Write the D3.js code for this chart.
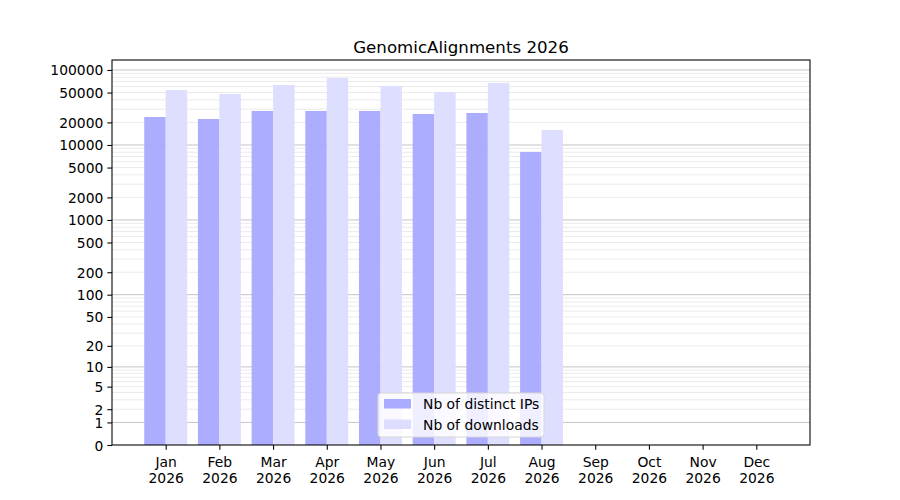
<!DOCTYPE html>
<html>
<head>
<title>GenomicAlignments 2026 | D3</title>
<script src="https://d3js.org/d3.v7.min.js" charset="utf-8"></script>
<style>
body {
  margin: 0;
  font-family: "DejaVu Sans", sans-serif;
}
svg text {
  font-family: "DejaVu Sans", sans-serif;
}
.tick text {
  font-size: 13.89px;
  fill: #000;
}
</style>
</head>
<body>
<div id="chart"></div>
<script>
var months = ["Jan", "Feb", "Mar", "Apr", "May", "Jun", "Jul", "Aug", "Sep", "Oct", "Nov", "Dec"];
var year = "2026";
// values (Sep-Dec have no data yet)
var distinctIPs = [23600, 22200, 28400, 28400, 28400, 25900, 26700, 8070];
var downloads = [54100, 47900, 63100, 78200, 61200, 50900, 67100, 15850];
var yTicks = [0, 1, 2, 5, 10, 20, 50, 100, 200, 500, 1000, 2000, 5000, 10000, 20000, 50000, 100000];

var width = 900;
var height = 500;
var margin = {top: 60, right: 90, bottom: 55, left: 112};

var ipColor = "#aaaaff";
var dlColor = "#ddddff";

var svg = d3.select("#chart")
  .append("svg")
  .attr("width", width)
  .attr("height", height);

// x: one unit per month, padded by one on each side
var x = d3.scaleLinear()
  .domain([-1, 12])
  .range([margin.left, width - margin.right]);

// log(1 + v) style scale, so 0 is on the axis
var y = d3.scaleSymlog()
  .constant(1)
  .domain([0, 135800])
  .range([height - margin.bottom, margin.top]);

// grid lines: majors at powers of ten, minors in between
var majors = d3.range(0, 6).map(function(k) { return Math.pow(10, k); });
var minors = [];
for (var k = 0; k < 5; k++) {
  for (var m = 2; m < 10; m++) minors.push(m * Math.pow(10, k));
}

var grid = svg.append("g");
grid.selectAll("line.minor")
  .data(minors)
  .enter()
  .append("line")
  .attr("class", "minor")
  .attr("x1", margin.left)
  .attr("x2", width - margin.right)
  .attr("y1", function(d) { return y(d); })
  .attr("y2", function(d) { return y(d); })
  .attr("stroke", "#ebebeb")
  .attr("stroke-width", 1);
grid.selectAll("line.major")
  .data(majors)
  .enter()
  .append("line")
  .attr("class", "major")
  .attr("x1", margin.left)
  .attr("x2", width - margin.right)
  .attr("y1", function(d) { return y(d); })
  .attr("y2", function(d) { return y(d); })
  .attr("stroke", "#c4c4c4")
  .attr("stroke-width", 1);

var barW = x(0.4) - x(0);

svg.append("g")
  .selectAll("rect")
  .data(distinctIPs)
  .enter()
  .append("rect")
  .attr("x", function(d, i) { return x(i - 0.4); })
  .attr("y", function(d) { return y(d); })
  .attr("width", barW)
  .attr("height", function(d) { return y(0) - y(d); })
  .attr("fill", ipColor)
  .attr("fill-opacity", 0.97);

svg.append("g")
  .selectAll("rect")
  .data(downloads)
  .enter()
  .append("rect")
  .attr("x", function(d, i) { return x(i); })
  .attr("y", function(d) { return y(d); })
  .attr("width", barW)
  .attr("height", function(d) { return y(0) - y(d); })
  .attr("fill", dlColor)
  .attr("fill-opacity", 0.97);

// axes
var xAxis = svg.append("g")
  .attr("transform", "translate(0," + (height - margin.bottom) + ")")
  .call(d3.axisBottom(x)
    .tickValues(d3.range(0, 12))
    .tickSize(4.7)
    .tickPadding(4)
    .tickFormat(""));
xAxis.attr("font-family", null).attr("font-size", null);
xAxis.select(".domain").remove();
xAxis.selectAll(".tick line").attr("stroke", "#000").attr("stroke-width", 1.07);
xAxis.selectAll(".tick")
  .append("text")
  .attr("fill", "#000")
  .attr("text-anchor", "middle")
  .selectAll("tspan")
  .data(function(d) { return [months[d], year]; })
  .enter()
  .append("tspan")
  .attr("x", 0)
  .attr("y", function(d, i) { return 22 + i * 15.5; })
  .text(function(d) { return d; });

var yAxis = svg.append("g")
  .attr("transform", "translate(" + margin.left + ",0)")
  .call(d3.axisLeft(y)
    .tickValues(yTicks)
    .tickSize(4.7)
    .tickPadding(4)
    .tickFormat(d3.format("d")));
yAxis.attr("font-family", null).attr("font-size", null);
yAxis.select(".domain").remove();
yAxis.selectAll(".tick line").attr("stroke", "#000").attr("stroke-width", 1.07);
yAxis.selectAll(".tick text").attr("dy", "0.36em");

// frame
svg.append("rect")
  .attr("x", margin.left)
  .attr("y", margin.top)
  .attr("width", width - margin.left - margin.right)
  .attr("height", height - margin.top - margin.bottom)
  .attr("fill", "none")
  .attr("stroke", "#000")
  .attr("stroke-width", 1.07);

// title
svg.append("text")
  .attr("x", (margin.left + width - margin.right) / 2)
  .attr("y", margin.top - 7)
  .attr("text-anchor", "middle")
  .attr("font-size", "16.67px")
  .text("GenomicAlignments " + year);

// legend
var legendItems = [
  {label: "Nb of distinct IPs", color: ipColor},
  {label: "Nb of downloads", color: dlColor}
];
var legend = svg.append("g")
  .attr("transform", "translate(378,393)");
legend.append("rect")
  .attr("width", 166)
  .attr("height", 44)
  .attr("rx", 3)
  .attr("fill", "#fff")
  .attr("fill-opacity", 0.8)
  .attr("stroke", "#d6d6d6");
var item = legend.selectAll("g.item")
  .data(legendItems)
  .enter()
  .append("g")
  .attr("class", "item")
  .attr("transform", function(d, i) { return "translate(6," + (6 + i * 20.5) + ")"; });
item.append("rect")
  .attr("width", 27)
  .attr("height", 9.5)
  .attr("fill", function(d) { return d.color; });
item.append("text")
  .attr("x", 39)
  .attr("y", 10)
  .attr("font-size", "13.89px")
  .text(function(d) { return d.label; });
</script>
</body>
</html>
